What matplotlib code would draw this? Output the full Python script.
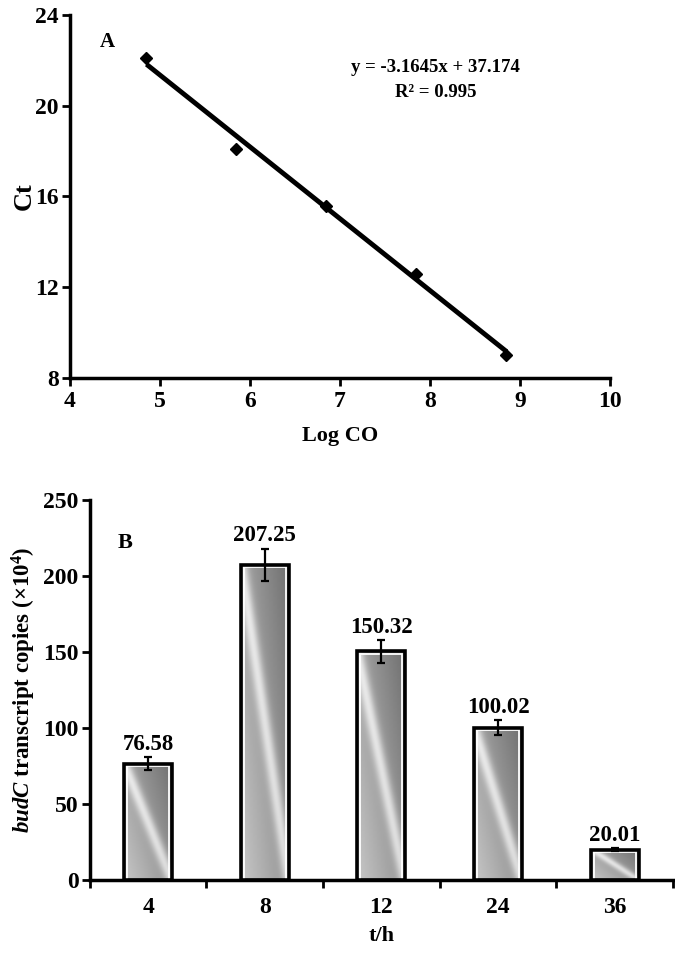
import numpy as np
import matplotlib
matplotlib.use('Agg')
import matplotlib.pyplot as plt
from matplotlib.patches import Rectangle

plt.rcParams['font.family'] = ['Liberation Serif', 'DejaVu Serif']
plt.rcParams['font.weight'] = 'bold'
plt.rcParams['mathtext.fontset'] = 'custom'
plt.rcParams['mathtext.rm'] = 'Liberation Serif:bold'
plt.rcParams['mathtext.it'] = 'Liberation Serif:italic:bold'
plt.rcParams['mathtext.bf'] = 'Liberation Serif:bold'

# standard curve (panel A)
log_co = [4.85, 5.85, 6.85, 7.85, 8.85]
ct = [22.1, 18.1, 15.6, 12.6, 9.0]
slope = -3.1645
intercept = 37.174
r2 = 0.995

# transcript copies (panel B)
times = ['4', '8', '12', '24', '36']
copies = [76.58, 207.25, 150.32, 100.02, 20.01]
errs = [4.0, 10.5, 7.5, 5.0, 1.0]

fig = plt.figure(figsize=(6.75, 9.58), dpi=100)

# ---- panel A
ax1 = fig.add_axes([0.1037, 0.6054, 0.80, 0.379])
xs = np.array([log_co[0], log_co[-1]])
ax1.plot(xs, slope * xs + intercept, color='black', lw=3.5, solid_capstyle='butt')
ax1.plot(log_co, ct, 'D', color='black', ms=6)
ax1.set_xlim(4, 10)
ax1.set_ylim(8, 24)
ax1.set_xticks(range(4, 11))
ax1.set_yticks(range(8, 25, 4))
ax1.set_xlabel('Log CO', fontsize=16, fontweight='bold', labelpad=10)
ax1.set_ylabel('Ct', fontsize=19, fontweight='bold', labelpad=0)
ax1.text(4.33, 22.6, 'A', fontsize=15, fontweight='bold')
ax1.text(8.06, 21.5, f'y = {slope}x + {intercept}', fontsize=13.5,
         fontweight='bold', ha='center')
ax1.text(8.06, 20.4, f'R² = {r2}', fontsize=13.5, fontweight='bold', ha='center')

# ---- panel B
ax2 = fig.add_axes([0.133, 0.0814, 0.864, 0.397])
x = np.arange(len(times))
w = 0.41
ax2.set_xlim(-0.5, len(times) - 0.5)
ax2.set_ylim(0, 250)

# gradient image for bar fill (soft diagonal light streak, top-left to bottom-right)
gu, gv = np.meshgrid(np.linspace(0, 1, 60), np.linspace(0, 1, 200))
d = gu + (1 - gv) - 1.0
grad = 0.64 - 0.14 * d + 0.28 * np.exp(-(d / 0.13) ** 2) - 0.06 * gu
grad = np.clip(grad, 0, 1)

for xi, val in zip(x, copies):
    im = ax2.imshow(grad, cmap='gray', vmin=0, vmax=1, origin='upper',
                    extent=[xi - w / 2, xi + w / 2, 0, val],
                    aspect='auto', interpolation='bicubic', zorder=2)
    rect = Rectangle((xi - w / 2, 0), w, val, transform=ax2.transData)
    im.set_clip_path(rect)
    ax2.add_patch(Rectangle((xi - w / 2 + 0.025, 0), w - 0.05, val - 1.6,
                            fill=False, ec='white', lw=1.3, zorder=3))
    ax2.add_patch(Rectangle((xi - w / 2, 0), w, val, fill=False,
                            ec='black', lw=2.6, zorder=4))

ax2.errorbar(x, copies, yerr=errs, fmt='none', ecolor='black',
             elinewidth=1.6, capsize=3, capthick=1.6, zorder=5)
for xi, val, e in zip(x, copies, errs):
    ax2.text(xi, val + e + 1.5, f'{val:.2f}', ha='center', va='bottom',
             fontsize=16.5, fontweight='bold', zorder=6)

ax2.set_xticks(x)
ax2.set_xticklabels(times)
ax2.set_xticks(np.arange(-0.5, len(times)), minor=True)
ax2.tick_params(axis='x', which='major', length=0, pad=12)
ax2.tick_params(axis='x', which='minor', length=6, width=2, direction='out')
ax2.set_yticks(range(0, 251, 50))
ax2.set_xlabel('t/h', fontsize=16, fontweight='bold', labelpad=6)
ax2.set_ylabel(r'$\it{budC}$ transcript copies (×10$^{4}$)', fontsize=16.5,
               fontweight='bold', labelpad=4)
ax2.text(-0.26, 218, 'B', fontsize=16, fontweight='bold')

for ax in (ax1, ax2):
    for s in ('top', 'right'):
        ax.spines[s].set_visible(False)
    for s in ('left', 'bottom'):
        ax.spines[s].set_linewidth(2.5)
    ax.tick_params(axis='y', length=6, width=2, direction='out', pad=2)
    for lab in ax.get_xticklabels() + ax.get_yticklabels():
        lab.set_fontweight('bold')
        lab.set_fontsize(17)
ax1.tick_params(axis='x', length=6, width=2, direction='out')

fig.savefig('out.png', dpi=100)
